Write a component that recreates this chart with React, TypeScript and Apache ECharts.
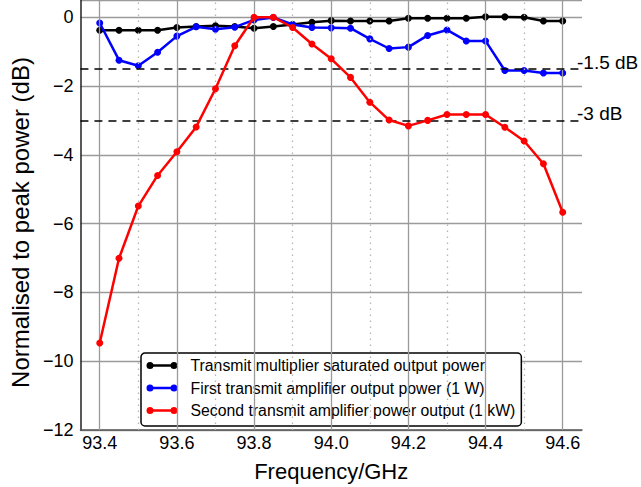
import React, { useEffect, useRef } from 'react';
import * as echarts from 'echarts';

const FREQ = [93.4, 93.45, 93.5, 93.55, 93.6, 93.65, 93.7, 93.75, 93.8, 93.85, 93.9, 93.95, 94.0, 94.05, 94.1, 94.15, 94.2, 94.25, 94.3, 94.35, 94.4, 94.45, 94.5, 94.55, 94.6];
const MULTIPLIER = [-0.38, -0.38, -0.38, -0.38, -0.30, -0.27, -0.25, -0.27, -0.32, -0.27, -0.21, -0.15, -0.10, -0.11, -0.11, -0.11, -0.03, -0.03, -0.03, -0.03, 0.01, 0.01, 0.0, -0.11, -0.11];
const FIRST_AMP = [-0.17, -1.25, -1.41, -1.02, -0.55, -0.28, -0.35, -0.29, -0.08, -0.01, -0.21, -0.30, -0.31, -0.32, -0.63, -0.91, -0.87, -0.53, -0.37, -0.69, -0.69, -1.55, -1.55, -1.62, -1.62];
const SECOND_AMP = [-9.47, -7.01, -5.49, -4.60, -3.91, -3.19, -2.08, -0.83, 0, 0, -0.30, -0.78, -1.21, -1.75, -2.47, -2.99, -3.16, -3.00, -2.83, -2.83, -2.83, -3.20, -3.60, -4.26, -5.67];

const SERIES_NAMES = [
  'Transmit multiplier saturated output power',
  'First transmit amplifier output power (1 W)',
  'Second transmit amplifier power output (1 kW)',
];
const SERIES_COLORS = ['#000000', '#0000ff', '#ff0000'];

const MAJOR_X = [93.4, 93.6, 93.8, 94.0, 94.2, 94.4, 94.6];
const MINOR_X = [93.5, 93.7, 93.9, 94.1, 94.3, 94.5];
const REF_LEVELS = [-1.5, -3];
const REF_LABELS = ['-1.5 dB', '-3 dB'];

const FONT = '"Liberation Sans", Arial, Helvetica, sans-serif';

const LEGEND_ICON =
  'path://M3.5,2.3 H27.5 V4.7 H3.5 Z M0,3.5 A3.5,3.5 0 1 1 7,3.5 A3.5,3.5 0 1 1 0,3.5 Z M24,3.5 A3.5,3.5 0 1 1 31,3.5 A3.5,3.5 0 1 1 24,3.5 Z';

export default function App() {
  const ref = useRef<HTMLDivElement>(null);

  useEffect(() => {
    const chart = echarts.init(ref.current!, null, { renderer: 'svg' });
    const values = [MULTIPLIER, FIRST_AMP, SECOND_AMP];

    const gridLines: any[] = [
      ...MAJOR_X.map((x) => ({
        xAxis: x,
        lineStyle: { color: '#9a9a9a', width: 1.3, type: 'solid' },
      })),
      ...MINOR_X.map((x) => ({
        xAxis: x,
        lineStyle: { color: '#b4b4b4', width: 1.3, type: [1.5, 4.5] },
      })),
    ];

    const refLines: any[] = REF_LEVELS.map((y, i) => ({
      yAxis: y,
      lineStyle: { color: '#000', width: 1.5, type: [8, 6] },
      label: {
        show: true,
        position: 'end',
        distance: -5,
        formatter: REF_LABELS[i] + '\n ',
        color: '#000',
        fontSize: 19,
        lineHeight: 13,
        fontFamily: FONT,
      },
    }));

    const option: any = {
      animation: false,
      backgroundColor: '#ffffff',
      textStyle: { fontFamily: FONT },
      grid: { left: 80, right: 59, top: -3, bottom: 54, containLabel: false },
      xAxis: {
        type: 'value',
        min: 93.35,
        max: 94.65,
        interval: 0.05,
        name: 'Frequency/GHz',
        nameLocation: 'middle',
        nameGap: 30,
        nameTextStyle: { fontSize: 22, color: '#000', fontFamily: FONT },
        axisLine: { show: true, onZero: false, lineStyle: { color: '#555', width: 1.5 } },
        axisTick: { show: false },
        splitLine: { show: false },
        axisLabel: {
          margin: 4,
          fontSize: 18,
          color: '#000',
          fontFamily: FONT,
          formatter: (v: number) => {
            const k = v / 0.2;
            return Math.abs(k - Math.round(k)) < 1e-6 ? v.toFixed(1) : '';
          },
        },
      },
      yAxis: {
        type: 'value',
        min: -12,
        max: 0.5,
        interval: 2,
        name: 'Normalised to peak power (dB)',
        nameLocation: 'middle',
        nameGap: 46,
        nameRotate: 90,
        nameTextStyle: { fontSize: 24, color: '#000', fontFamily: FONT, padding: [0, 15, 0, 0] },
        axisLine: { show: true, lineStyle: { color: '#222', width: 1.5 } },
        axisTick: { show: false },
        splitLine: { show: true, lineStyle: { color: '#9a9a9a', width: 1.3 } },
        axisLabel: {
          margin: 7,
          fontSize: 18,
          color: '#000',
          fontFamily: FONT,
          showMaxLabel: false,
          formatter: (v: number) => {
            if (v > 0.01) return '';
            if (Math.abs(v) < 1e-9) return '0';
            return '\u2212' + Math.abs(v);
          },
        },
      },
      legend: {
        show: true,
        data: SERIES_NAMES,
        orient: 'vertical',
        left: 141,
        top: 353,
        icon: LEGEND_ICON,
        itemWidth: 31,
        itemHeight: 7,
        itemGap: 6.5,
        padding: [4.5, 6, 7.5, 5.5],
        backgroundColor: '#ffffff',
        borderColor: '#000000',
        borderWidth: 1.5,
        borderRadius: 4,
        selectedMode: false,
        textStyle: { fontSize: 15.8, color: '#000', fontFamily: FONT, lineHeight: 16, padding: [0, 0, 0, 8] },
      },
      series: [
        {
          name: 'grid-helper',
          type: 'line',
          data: [],
          z: 1,
          silent: true,
          markLine: {
            silent: true,
            symbol: 'none',
            animation: false,
            label: { show: false },
            data: gridLines,
          },
        },
        {
          name: 'ref-helper',
          type: 'line',
          data: [],
          z: 2,
          silent: true,
          markLine: {
            silent: true,
            symbol: 'none',
            animation: false,
            data: refLines,
          },
        },
        ...SERIES_NAMES.map((name, i) => ({
          name,
          type: 'line',
          z: 3 + i,
          data: FREQ.map((f, j) => [f, values[i][j]]),
          symbol: 'circle',
          symbolSize: 7,
          showSymbol: true,
          lineStyle: { color: SERIES_COLORS[i], width: 2.5 },
          itemStyle: { color: SERIES_COLORS[i], borderWidth: 0 },
          emphasis: { disabled: true },
        })),
      ],
    };

    chart.setOption(option);
    return () => chart.dispose();
  }, []);

  return (
    <div
      ref={ref}
      style={{ position: 'fixed', left: 0, top: 0, width: 641, height: 487, background: '#fff' }}
    />
  );
}
